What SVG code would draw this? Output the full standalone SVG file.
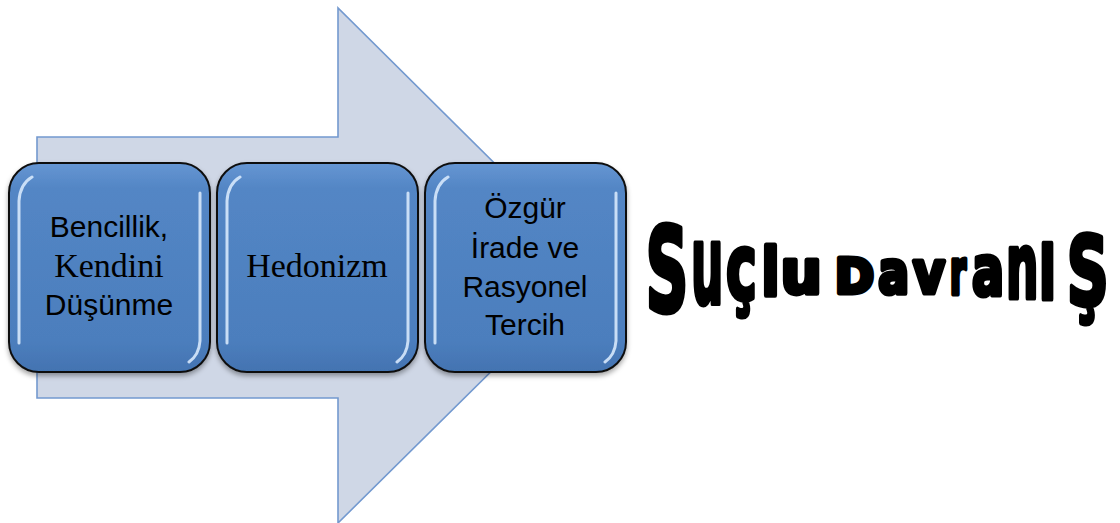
<svg xmlns="http://www.w3.org/2000/svg" width="1120" height="523" viewBox="0 0 1120 523">
  <defs>
    <linearGradient id="boxFill" x1="0" y1="0" x2="0" y2="1">
      <stop offset="0" stop-color="#6696D3"/>
      <stop offset="0.12" stop-color="#5386C5"/>
      <stop offset="0.85" stop-color="#4C7EBD"/>
      <stop offset="1" stop-color="#4373B1"/>
    </linearGradient>
    <filter id="shadow" x="-10%" y="-10%" width="120%" height="125%">
      <feDropShadow dx="0" dy="3" stdDeviation="2.5" flood-color="#000" flood-opacity="0.35"/>
    </filter>
    <filter id="soft" x="-20%" y="-20%" width="140%" height="140%">
      <feGaussianBlur stdDeviation="0.7"/>
    </filter>
    <g id="boxShape">
      <rect x="0" y="0" width="201" height="209" rx="30" ry="30" fill="url(#boxFill)" stroke="#111" stroke-width="2" filter="url(#shadow)"/>
      <path d="M10 180 L10 38 Q11 21 23 14" class="hl"/>
      <path d="M191 30 L191 178 Q190 192 180 199" class="hl"/>
    </g>
  </defs>
  <style>
    .hl { fill: none; stroke: #D6E8FC; stroke-width: 3; stroke-linecap: round; opacity: 0.9; filter: url(#soft); }
    .sans { font-family: "Liberation Sans", Arial, sans-serif; font-size: 30px; fill: #000; text-anchor: middle; }
    .serif { font-family: "Liberation Serif", "Times New Roman", serif; font-size: 34px; fill: #000; text-anchor: middle; }
    .wa { font-family: "DejaVu Sans", "Liberation Sans", sans-serif; font-weight: bold; fill: #000; stroke: #000; stroke-width: 5; stroke-linejoin: round; }
  </style>

  <rect width="1120" height="523" fill="#FFFFFF"/>

  <g id="arrow">
    <polygon points="37,137 338,137 338,8 598,266 338,523 338,398 37,398" fill="#CFD7E6" stroke="#7399CF" stroke-width="1.6" stroke-linejoin="miter"/>
  </g>

  <g id="connectors"></g>

  <g id="node1">
    <use href="#boxShape" transform="translate(9,163)"/>
    <text class="sans" x="109" y="237">Bencillik,</text>
    <text class="serif" x="109" y="277">Kendini</text>
    <text class="sans" x="109" y="315">Düşünme</text>
  </g>

  <g id="node2">
    <use href="#boxShape" transform="translate(217,163)"/>
    <text class="serif" x="317" y="277">Hedonizm</text>
  </g>

  <g id="node3">
    <use href="#boxShape" transform="translate(425,163)"/>
    <text class="sans" x="525" y="218">Özgür</text>
    <text class="sans" x="525" y="258">İrade ve</text>
    <text class="sans" x="525" y="297">Rasyonel</text>
    <text class="sans" x="525" y="335">Tercih</text>
  </g>

  <g id="title">
    <text class="wa"><tspan x="645.6" y="310.5" font-size="118" textLength="43" lengthAdjust="spacingAndGlyphs">S</tspan><tspan x="690.9" y="302.5" font-size="110" textLength="32.4" lengthAdjust="spacingAndGlyphs">u</tspan><tspan x="725.9" y="298.5" font-size="91" textLength="30.8" lengthAdjust="spacingAndGlyphs">ç</tspan><tspan x="761.5" y="294.5" font-size="66" textLength="18" lengthAdjust="spacingAndGlyphs">l</tspan><tspan x="780.8" y="292.5" font-size="60" textLength="41" lengthAdjust="spacingAndGlyphs">u</tspan><tspan x="822" y="292.5" font-size="48" textLength="13" lengthAdjust="spacingAndGlyphs"> </tspan><tspan x="835.1" y="292.5" font-size="48" textLength="39" lengthAdjust="spacingAndGlyphs">D</tspan><tspan x="878.2" y="292.5" font-size="58.5" textLength="30.8" lengthAdjust="spacingAndGlyphs">a</tspan><tspan x="913" y="292.5" font-size="58.5" textLength="32" lengthAdjust="spacingAndGlyphs">v</tspan><tspan x="949.8" y="293.5" font-size="62" textLength="16.4" lengthAdjust="spacingAndGlyphs">r</tspan><tspan x="972.1" y="294.5" font-size="69" textLength="32" lengthAdjust="spacingAndGlyphs">a</tspan><tspan x="1005.9" y="297.5" font-size="90" textLength="32.4" lengthAdjust="spacingAndGlyphs">n</tspan><tspan x="1038.5" y="298.5" font-size="102" textLength="18" lengthAdjust="spacingAndGlyphs">ı</tspan><tspan x="1066.7" y="304.5" font-size="96" textLength="42" lengthAdjust="spacingAndGlyphs">Ş</tspan></text>
  </g>
</svg>
